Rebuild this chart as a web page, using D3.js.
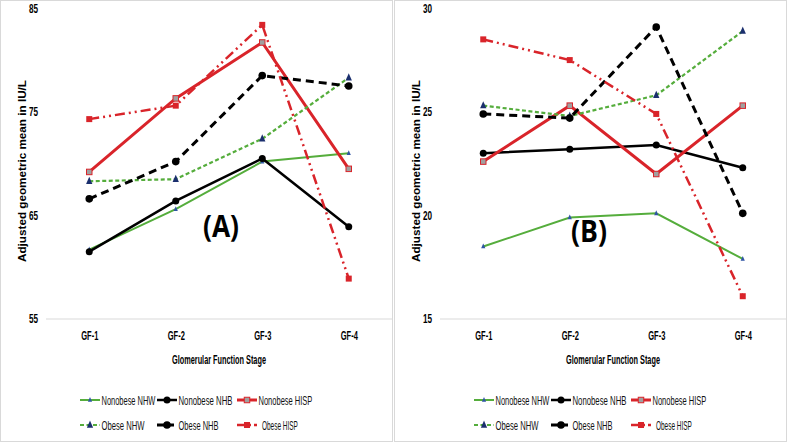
<!DOCTYPE html>
<html>
<head>
<meta charset="utf-8">
<script src="https://cdn.jsdelivr.net/npm/d3@7"></script>
<style>
  body { margin: 0; background: #fff; }
  text { font-family: "Liberation Sans", Arial, sans-serif; }
</style>
</head>
<body>
<div id="chart"></div>
<script>
let svgWidth = 787;
let svgHeight = 443;

// data
let stages = ['GF-1', 'GF-2', 'GF-3', 'GF-4'];
let seriesNames = ['Nonobese NHW', 'Nonobese NHB', 'Nonobese HISP', 'Obese NHW', 'Obese NHB', 'Obese HISP'];

let panelA_values = [
  [61.7, 65.6, 70.2, 71.0],
  [61.5, 66.4, 70.5, 63.9],
  [69.2, 76.3, 81.7, 69.5],
  [68.3, 68.5, 72.4, 78.3],
  [66.6, 70.2, 78.5, 77.5],
  [74.3, 75.6, 83.4, 58.9]
];
let panelA_ticks = [55, 65, 75, 85];

let panelB_values = [
  [18.5, 19.9, 20.1, 17.9],
  [23.0, 23.2, 23.4, 22.3],
  [22.6, 25.3, 22.0, 25.3],
  [25.3, 24.8, 25.8, 28.9],
  [24.9, 24.7, 29.1, 20.1],
  [28.5, 27.5, 24.9, 16.1]
];
let panelB_ticks = [15, 20, 25, 30];

// styles for each series
let styles = [
  { color: '#55ad3c', width: 2, dash: null, legDash: null, marker: 'tri', mSize: 3, mFill: '#2f55a4', mStroke: 'none' },
  { color: '#000', width: 2.5, dash: null, legDash: null, marker: 'circle', mSize: 3.5, mFill: '#000', mStroke: 'none' },
  { color: '#d9242a', width: 3, dash: null, legDash: null, marker: 'square', mSize: 5.5, mFill: '#a0a0a0', mStroke: '#d9242a' },
  { color: '#55ad3c', width: 2.2, dash: '4,2.5', legDash: '4,2.5', marker: 'tri', mSize: 4.5, mFill: '#1b2f6e', mStroke: 'none' },
  { color: '#000', width: 3, dash: '8,5', legDash: '7,3', marker: 'circle', mSize: 3.8, mFill: '#000', mStroke: 'none' },
  { color: '#d9242a', width: 2.5, dash: '10,4,2,4,2,4', legDash: '9,3,2,3', marker: 'square', mSize: 6, mFill: '#d9242a', mStroke: 'none' }
];

let legendWidths = [54, 54, 54, 43, 40, 36];

let svg = d3.select('#chart').append('svg')
  .attr('width', svgWidth)
  .attr('height', svgHeight);

// squeeze text so it looks like the narrow font of the original
function condense(sel, factor) {
  sel.each(function() {
    let len = this.getComputedTextLength();
    d3.select(this)
      .attr('textLength', len * factor)
      .attr('lengthAdjust', 'spacingAndGlyphs');
  });
}

// panel borders
svg.append('rect')
  .attr('x', 0.5).attr('y', 0.5)
  .attr('width', 392).attr('height', 441)
  .attr('fill', 'none').attr('stroke', '#d9d9d9');
svg.append('rect')
  .attr('x', 394.5).attr('y', 0.5)
  .attr('width', 392).attr('height', 441)
  .attr('fill', 'none').attr('stroke', '#d9d9d9');

function drawMarker(g, st, x, y) {
  if (st.marker === 'circle') {
    g.append('circle').attr('cx', x).attr('cy', y).attr('r', st.mSize)
      .attr('fill', st.mFill);
  } else if (st.marker === 'square') {
    let s = st.mSize;
    g.append('rect').attr('x', x - s / 2).attr('y', y - s / 2)
      .attr('width', s).attr('height', s)
      .attr('fill', st.mFill).attr('stroke', st.mStroke).attr('stroke-width', 1);
  } else {
    let s = st.mSize;
    g.append('path')
      .attr('d', `M${x},${y - s} L${x + s * 0.7},${y + s * 0.6} L${x - s * 0.7},${y + s * 0.6} Z`)
      .attr('fill', st.mFill);
  }
}

function drawPanel(left, values, ticks, letter, letterPos) {
  let g = svg.append('g');

  let x = d3.scalePoint()
    .domain(stages)
    .range([left + 46, left + 392])
    .padding(0.5);

  let y = d3.scaleLinear()
    .domain([ticks[0], ticks[ticks.length - 1]])
    .range([319, 8.3]);

  // baseline
  g.append('line')
    .attr('x1', left + 46).attr('x2', left + 392)
    .attr('y1', 319).attr('y2', 319)
    .attr('stroke', '#d9d9d9').attr('stroke-width', 1);

  // y axis labels
  let yAxis = g.append('g')
    .attr('transform', `translate(${left + 46}, 0)`)
    .call(d3.axisLeft(y).tickValues(ticks).tickSize(0).tickPadding(8));
  yAxis.select('.domain').remove();
  yAxis.selectAll('text')
    .attr('font-size', 12).attr('font-weight', 'bold').attr('fill', '#000')
    .style('font-family', '"Liberation Sans", Arial, sans-serif');
  condense(yAxis.selectAll('text'), 0.68);

  // x axis labels
  let xAxis = g.append('g')
    .attr('transform', 'translate(0, 319)')
    .call(d3.axisBottom(x).tickSize(0).tickPadding(12));
  xAxis.select('.domain').remove();
  xAxis.selectAll('text')
    .attr('font-size', 12.5).attr('font-weight', 'bold').attr('fill', '#000')
    .style('font-family', '"Liberation Sans", Arial, sans-serif');
  condense(xAxis.selectAll('text'), 0.6);

  let title = g.append('text')
    .attr('x', left + 219).attr('y', 364)
    .attr('text-anchor', 'middle')
    .attr('font-size', 12).attr('font-weight', 'bold')
    .text('Glomerular Function Stage');
  title.attr('textLength', 94).attr('lengthAdjust', 'spacingAndGlyphs');

  g.append('text')
    .attr('transform', `translate(${left + 26}, 171) rotate(-90)`)
    .attr('text-anchor', 'middle')
    .attr('font-size', 10).attr('font-weight', 'bold')
    .attr('textLength', 182).attr('lengthAdjust', 'spacingAndGlyphs')
    .text('Adjusted geometric mean in IU/L');

  // lines
  let line = d3.line()
    .x((d, i) => x(stages[i]))
    .y(d => y(d));

  values.forEach(function(vals, si) {
    let st = styles[si];
    g.append('path')
      .datum(vals)
      .attr('d', line)
      .attr('fill', 'none')
      .attr('stroke', st.color)
      .attr('stroke-width', st.width)
      .attr('stroke-dasharray', st.dash);
  });
  values.forEach(function(vals, si) {
    vals.forEach(function(v, i) {
      drawMarker(g, styles[si], x(stages[i]), y(v));
    });
  });

  // panel letter
  g.append('text')
    .attr('x', left + letterPos[0]).attr('y', letterPos[1])
    .attr('font-size', 30).attr('font-weight', 'bold')
    .style('font-family', '"Open Sans", sans-serif')
    .attr('textLength', 36).attr('lengthAdjust', 'spacingAndGlyphs')
    .text(letter);

  // legend
  let legX = [80, 157, 237];
  seriesNames.forEach(function(name, si) {
    let st = styles[si];
    let lx = left + legX[si % 3];
    let ly = si < 3 ? 400 : 425;
    g.append('line')
      .attr('x1', lx).attr('x2', lx + 20)
      .attr('y1', ly).attr('y2', ly)
      .attr('stroke', st.color).attr('stroke-width', st.width)
      .attr('stroke-dasharray', st.legDash);
    drawMarker(g, st, lx + 10, ly);
    let tx = lx + (si === 5 ? 25 : 21.5);
    let t = g.append('text')
      .attr('font-size', 12.5)
      .attr('fill', '#111')
      .text(name);
    let sx = legendWidths[si] / t.node().getComputedTextLength();
    t.attr('transform', `translate(${tx}, ${ly + 4.5}) scale(${sx}, 1)`);
  });
}

drawPanel(0, panelA_values, panelA_ticks, '(A)', [203, 237]);
drawPanel(394, panelB_values, panelB_ticks, '(B)', [177, 242]);
</script>
</body>
</html>
